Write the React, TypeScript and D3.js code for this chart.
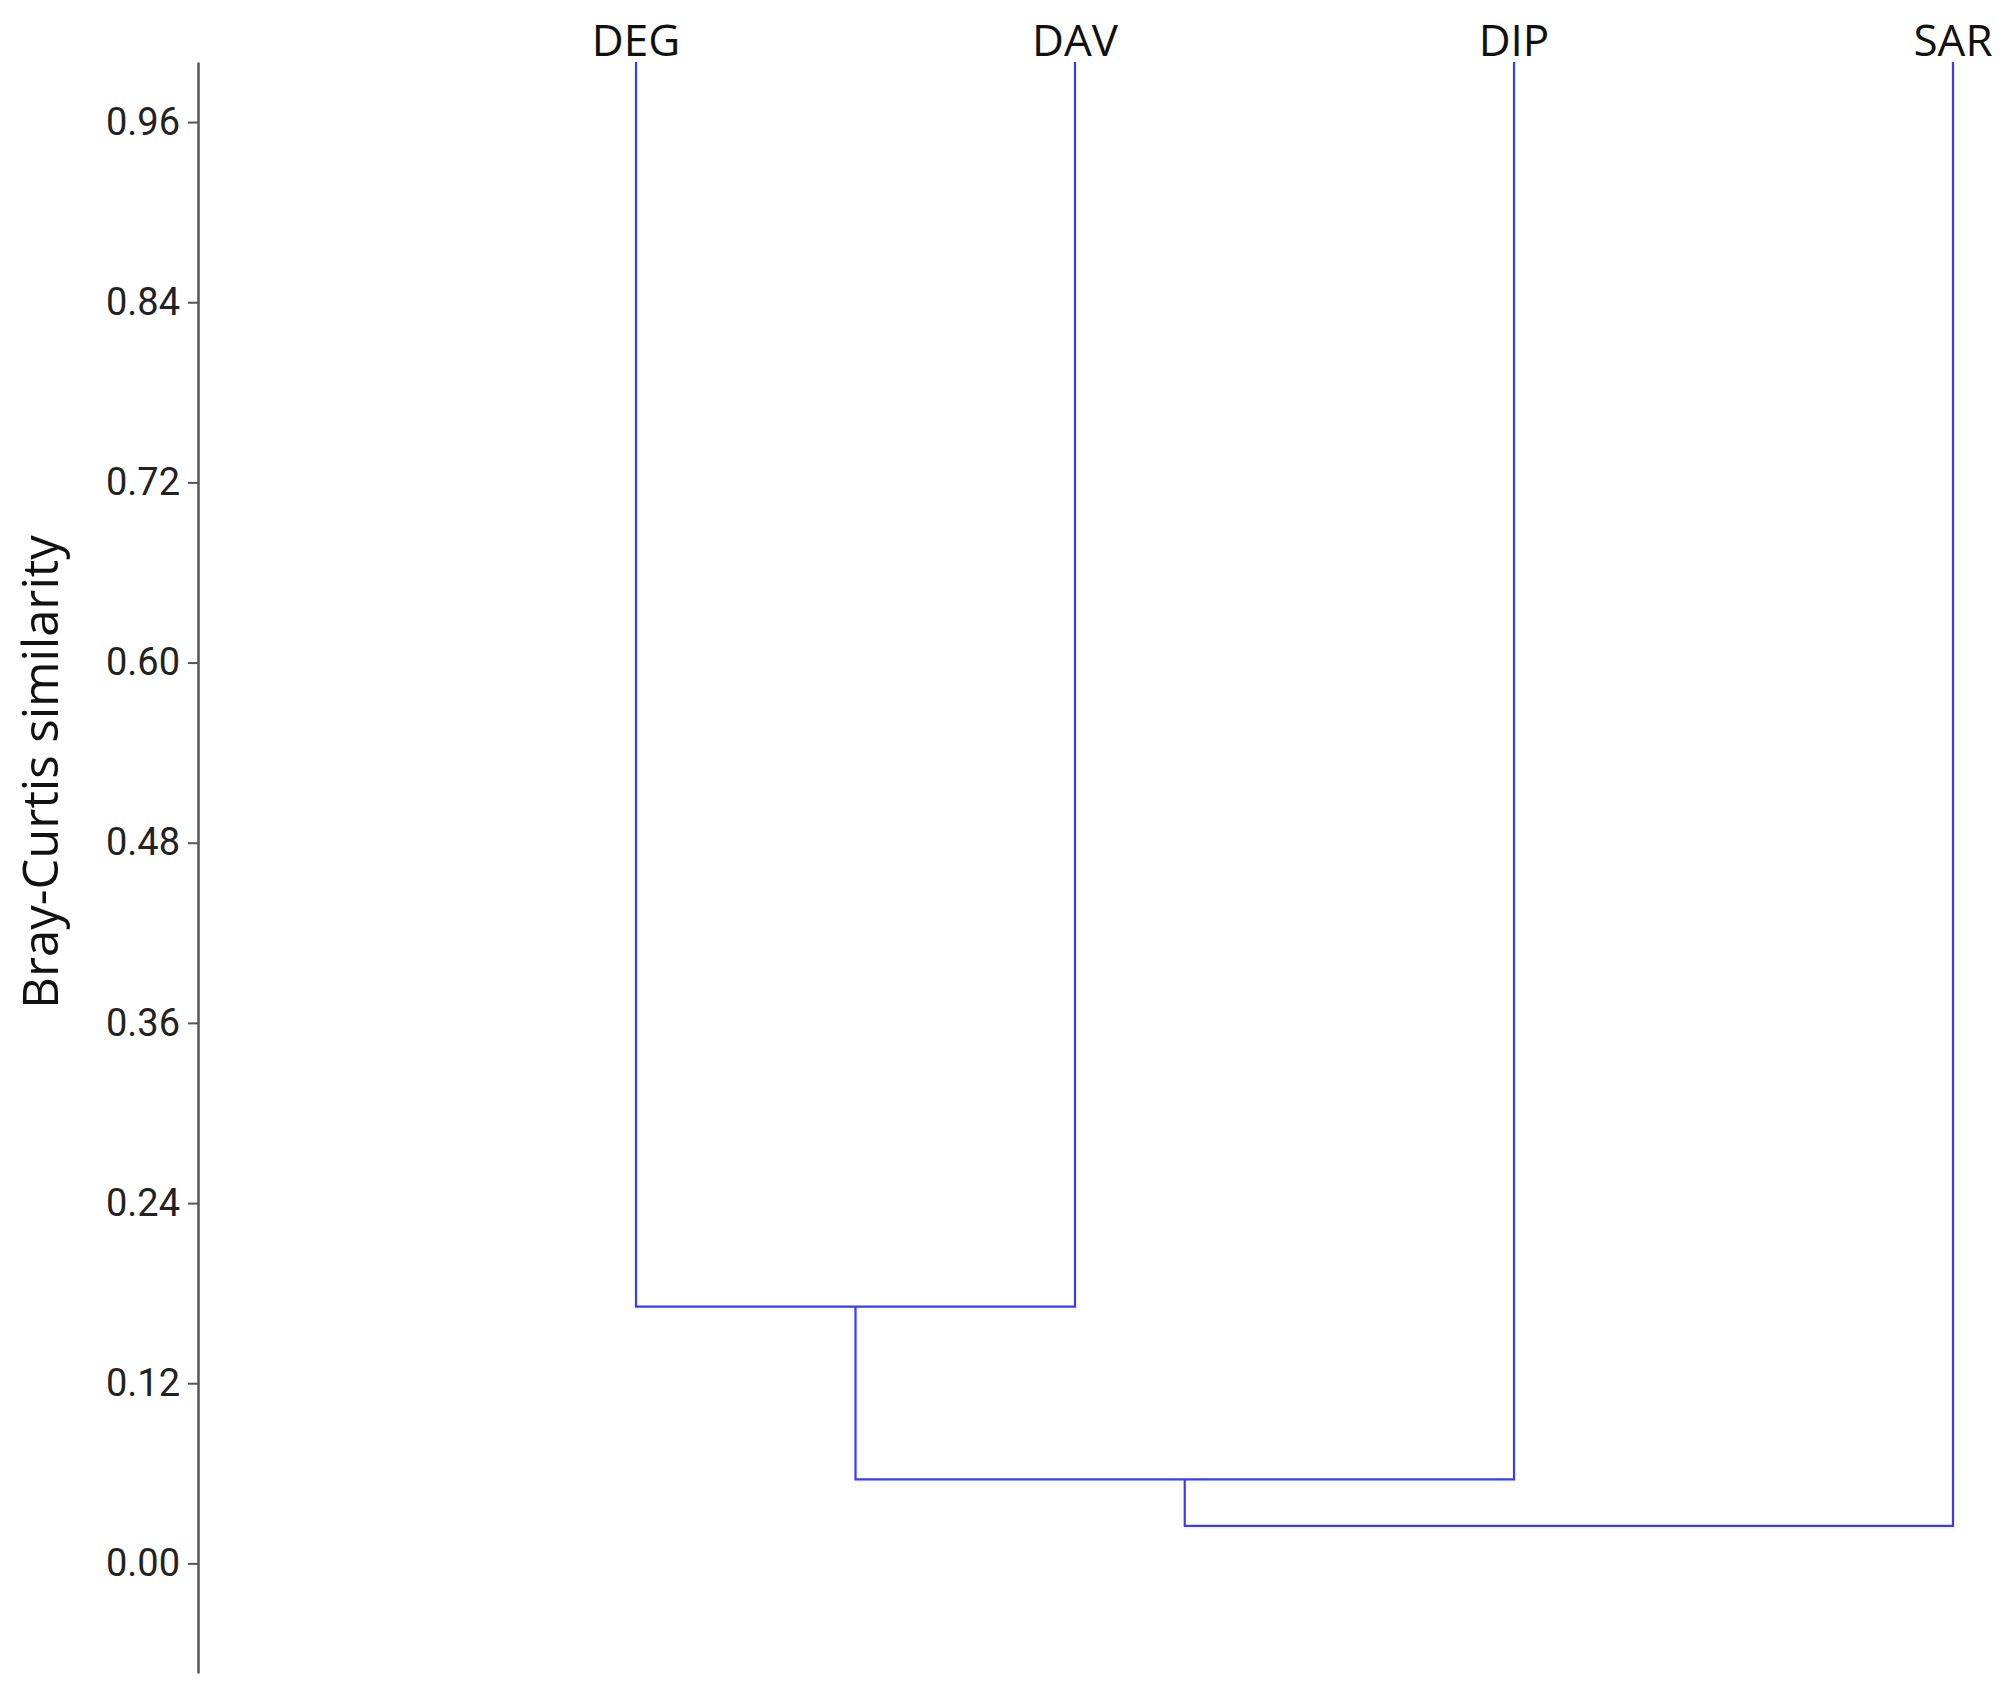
import { useRef, useEffect } from "react";
import * as d3 from "d3";

// leaf order along the top and the similarity at which clusters join
const leaves = ["DEG", "DAV", "DIP", "SAR"];
const leafLevel = 1.0;
// merges, in order: [left, right, similarity]
const merges: [string, string, number][] = [
    ["DEG", "DAV", 0.171],
    ["DEG+DAV", "DIP", 0.056],
    ["DEG+DAV+DIP", "SAR", 0.025],
];
const tickValues = [0, 0.12, 0.24, 0.36, 0.48, 0.6, 0.72, 0.84, 0.96];
const yLabel = "Bray-Curtis similarity";

const width = 2015, height = 1699;
const axisX = 198;

function drawChart(svgRef: any) {
    const svg = d3.select(svgRef.current);
    svg.selectAll("*").remove();

    const y = d3.scaleLinear().domain([-0.073, 1.0]).range([1673, 62]);
    const x = d3.scalePoint<string>().domain(leaves).range([636, 1953]);

    // axis
    const axis = svg.append("g")
        .attr("transform", `translate(${axisX},0)`)
        .call(d3.axisLeft(y).tickValues(tickValues).tickFormat(d3.format(".2f")).tickSizeInner(10).tickSizeOuter(0).tickPadding(8));
    axis.select(".domain").attr("stroke", "#555").attr("stroke-width", 2.5);
    axis.selectAll(".tick line").attr("stroke", "#555").attr("stroke-width", 2);
    axis.selectAll(".tick text")
        .attr("fill", "#222")
        .style("font-family", "Roboto, sans-serif")
        .style("font-size", "38px");

    svg.append("text")
        .attr("transform", `translate(58,772) rotate(-90)`)
        .attr("text-anchor", "middle")
        .style("font-family", "'Open Sans', sans-serif")
        .style("font-size", "49px")
        .attr("fill", "#111")
        .text(yLabel);

    // nodes: position + level
    const nodes = new Map<string, { x: number; h: number }>();
    leaves.forEach(l => nodes.set(l, { x: x(l)!, h: leafLevel }));

    const g = svg.append("g")
        .attr("fill", "none")
        .attr("stroke", "#3a3aff")
        .attr("stroke-width", 2.2);

    merges.forEach(([a, b, h]) => {
        const na = nodes.get(a)!, nb = nodes.get(b)!;
        g.append("path")
            .attr("d", `M${na.x},${y(na.h)}V${y(h)}H${nb.x}V${y(nb.h)}`);
        nodes.set(`${a}+${b}`, { x: (na.x + nb.x) / 2, h });
    });

    svg.append("g")
        .selectAll("text")
        .data(leaves)
        .join("text")
        .attr("x", d => x(d)!)
        .attr("y", 56)
        .attr("text-anchor", "middle")
        .style("font-family", "'Open Sans', sans-serif")
        .style("font-size", "44px")
        .attr("fill", "#111")
        .text(d => d);
}

export default function App() {
    const svg = useRef(null);
    useEffect(() => {
        drawChart(svg);
    }, [svg]);

    return (
        <svg
            ref={svg}
            width={width}
            height={height}
            style={{ position: "absolute", left: 0, top: 0, background: "#fff" }}
        />
    );
}
